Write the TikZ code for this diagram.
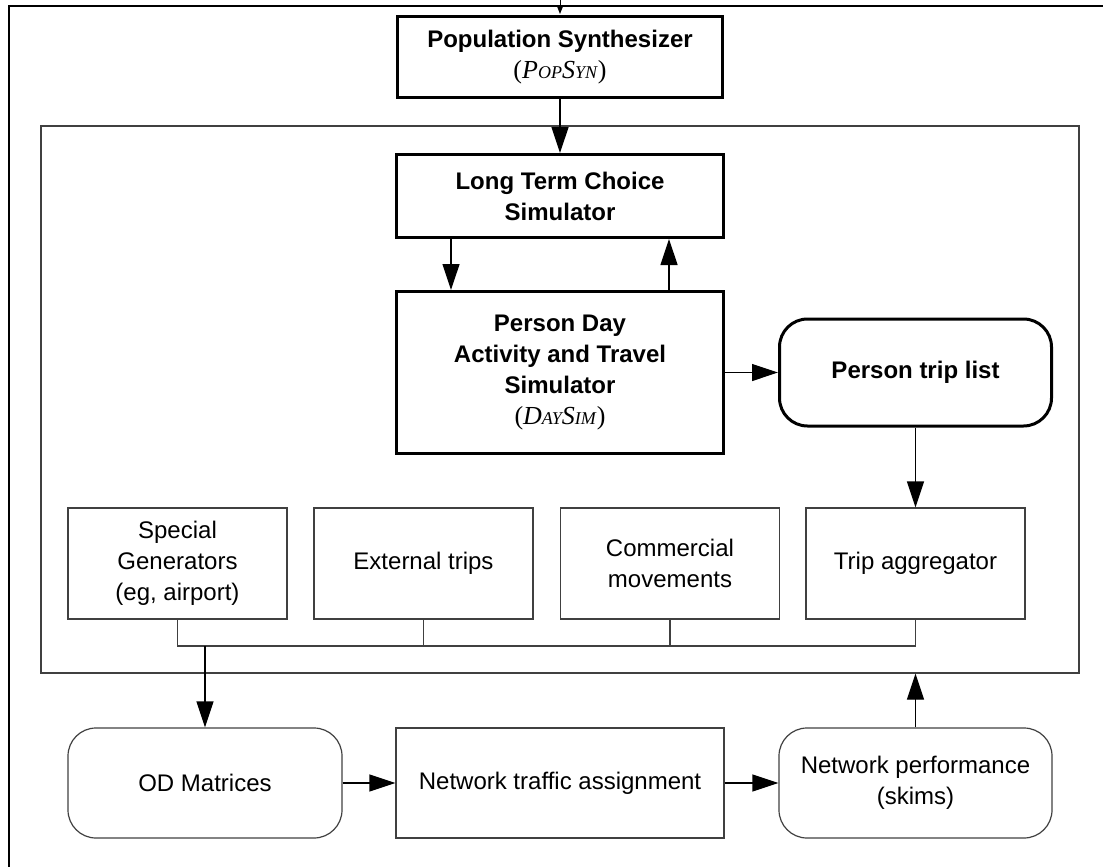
\documentclass[tikz,border=0pt]{standalone}
\usepackage{fontspec}
\setmainfont{Liberation Sans}
\newfontfamily\tmsfont{Liberation Serif}
\usetikzlibrary{arrows.meta}

\newcommand{\bigtxt}{\fontsize{24}{31}\selectfont}
\newcommand{\lowcap}[1]{{\fontsize{18}{18}\selectfont #1}}
\newcommand{\popsynname}{{\tmsfont\mdseries\fontsize{26}{31}\selectfont(\textit{P\lowcap{OP}S\lowcap{YN}})}}
\newcommand{\daysimname}{{\tmsfont\mdseries\fontsize{26}{31}\selectfont(\textit{D\lowcap{AY}S\lowcap{IM}})}}

\begin{document}
\begin{tikzpicture}[x=1pt,y=-1pt,font=\bigtxt,
  heavy/.style={draw,line width=3pt,align=center,inner sep=0pt,font=\bigtxt\bfseries},
  plain/.style={draw=black!75,line width=1.2pt,align=center,inner sep=0pt,font=\bigtxt},
  soft/.style={plain,rounded corners=28pt},
  arr/.style={-{Triangle[length=26pt,width=17pt]},line width=1.2pt}]
\useasboundingbox (0,0) rectangle (1103,867);

% outer frame, cut off at right and bottom
\draw[line width=2.5pt] (9,867) -- (9,6) -- (1103,6);
\coordinate (feed) at (560,0);
\coordinate (feedend) at (560,14);
\draw[-{Triangle[length=8pt,width=6pt]},line width=1pt] (feed) -- (feedend);

\node[heavy,minimum width=325pt,minimum height=81pt] (popsyn) at (560,57) {Population Synthesizer\\\popsynname};

% inner frame
\node[draw=black!75,line width=1.2pt,minimum width=1038pt,minimum height=547pt,inner sep=0pt] (frame) at (560,399.5) {};

\node[heavy,minimum width=327pt,minimum height=83pt] (ltc) at (560,196) {Long Term Choice\\Simulator};
\node[heavy,minimum width=327pt,minimum height=162pt] (pd) at (560,372.5) {Person Day\\Activity and Travel\\Simulator\\\daysimname};
\node[heavy,rounded corners=28pt,minimum width=272pt,minimum height=107pt] (ptl) at (915.5,372.5) {Person trip list};

\node[plain,minimum width=219pt,minimum height=111pt] (spec) at (177.5,563.5) {Special\\Generators\\(eg, airport)};
\node[plain,minimum width=219pt,minimum height=111pt] (ext) at (423.5,563.5) {External trips};
\node[plain,minimum width=219pt,minimum height=111pt] (com) at (670,563.5) {Commercial\\movements};
\node[plain,minimum width=219pt,minimum height=111pt] (trip) at (915.5,563.5) {Trip aggregator};
\coordinate (bus) at (0,646);

\node[soft,minimum width=274pt,minimum height=110pt] (od) at (205,783) {OD Matrices};
\node[plain,minimum width=328pt,minimum height=110pt] (nta) at (560,783) {Network traffic assignment};
\node[soft,minimum width=273pt,minimum height=110pt] (np) at (915.5,783) {Network performance\\(skims)};

\draw[arr] (popsyn) -- (ltc);
\draw[arr] ([xshift=-109pt]ltc.south) -- ([xshift=-109pt]pd.north);
\draw[arr] ([xshift=109pt]pd.north) -- ([xshift=109pt]ltc.south);
\draw[arr] (pd.east) -- (ptl.west);
\draw[arr] (ptl.south) -- (trip.north);

\draw[draw=black!75,line width=1.2pt] (spec.south) -- (spec.south |- bus) -- (trip.south |- bus) -- (trip.south);
\foreach \n in {ext,com}
  \draw[draw=black!75,line width=1.2pt] (\n.south) -- (\n.south |- bus);
\draw[arr] (od.north |- bus) -- (od.north);

\draw[arr] (od.east) -- (nta.west);
\draw[arr] (nta.east) -- (np.west);
\draw[arr] (np.north) -- (np.north |- frame.south);
\end{tikzpicture}
\end{document}
